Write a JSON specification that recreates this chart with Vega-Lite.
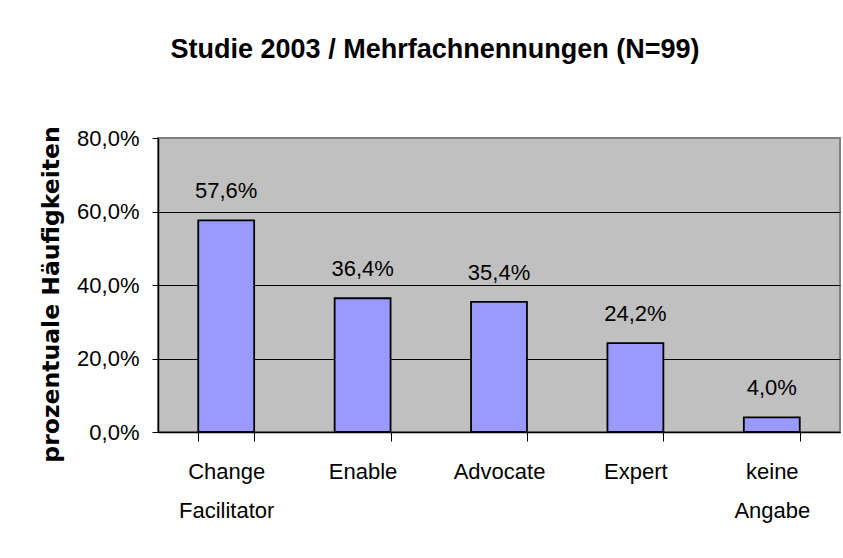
{
  "$schema": "https://vega.github.io/schema/vega-lite/v6.json",
  "width": 682,
  "height": 294,
  "autosize": {"type": "none"},
  "padding": {"left": 158, "top": 138, "right": 3, "bottom": 126},
  "background": "white",
  "title": {
    "text": "Studie 2003 / Mehrfachnennungen (N=99)",
    "font": "Liberation Sans",
    "fontSize": 27,
    "fontWeight": "bold",
    "color": "black",
    "anchor": "middle",
    "frame": "group",
    "dx": -64,
    "baseline": "alphabetic",
    "offset": 41
  },
  "config": {
    "locale": {"number": {"decimal": ",", "thousands": ".", "grouping": [3], "currency": ["", " €"]}},
    "view": {"fill": "#C0C0C0", "stroke": "#808080", "strokeWidth": 2},
    "font": "Liberation Sans"
  },
  "data": {
    "values": [
      {"kategorie": "Change Facilitator", "anteil": 0.576},
      {"kategorie": "Enable", "anteil": 0.364},
      {"kategorie": "Advocate", "anteil": 0.354},
      {"kategorie": "Expert", "anteil": 0.242},
      {"kategorie": "keine Angabe", "anteil": 0.04}
    ]
  },
  "encoding": {
    "x": {
      "field": "kategorie",
      "type": "nominal",
      "sort": null,
      "scale": {"paddingInner": 0.59, "paddingOuter": 0.295},
      "axis": {
        "title": null,
        "labelAngle": 0,
        "labelExpr": "split(datum.label, ' ')",
        "labelFont": "Liberation Sans",
        "labelFontSize": 22,
        "labelColor": "black",
        "labelLineHeight": 39,
        "labelBaseline": "top",
        "labelPadding": 20,
        "tickBand": "extent",
        "tickSize": 9,
        "tickColor": "black",
        "domainColor": "black",
        "domainWidth": 1.5,
        "labelLimit": 300
      }
    },
    "y": {
      "field": "anteil",
      "type": "quantitative",
      "scale": {"domain": [0, 0.8], "nice": false},
      "axis": {
        "title": "prozentuale Häufigkeiten",
        "titleFont": "DejaVu Sans",
        "titleFontWeight": "bold",
        "titleFontSize": 23.5,
        "titleColor": "black",
        "titleAngle": -90,
        "titleAlign": "center",
        "titleBaseline": "alphabetic",
        "titleX": -100,
        "titleY": 156,
        "values": [0, 0.2, 0.4, 0.6, 0.8],
        "format": ".1%",
        "labelFont": "Liberation Sans",
        "labelFontSize": 22,
        "labelColor": "black",
        "labelPadding": 13,
        "tickSize": 6,
        "tickColor": "black",
        "domainColor": "black",
        "domainWidth": 1.5,
        "grid": true,
        "gridColor": {"condition": {"test": "datum.value >= 0.79", "value": "#808080"}, "value": "black"},
        "gridWidth": 1
      }
    }
  },
  "layer": [
    {
      "mark": {"type": "bar", "fill": "#9999FF", "stroke": "black", "strokeWidth": 1.8}
    },
    {
      "mark": {
        "type": "text",
        "baseline": "alphabetic",
        "dy": -22,
        "fontSize": 22,
        "color": "black",
        "font": "Liberation Sans"
      },
      "encoding": {"text": {"field": "anteil", "type": "quantitative", "format": ".1%"}}
    }
  ]
}
